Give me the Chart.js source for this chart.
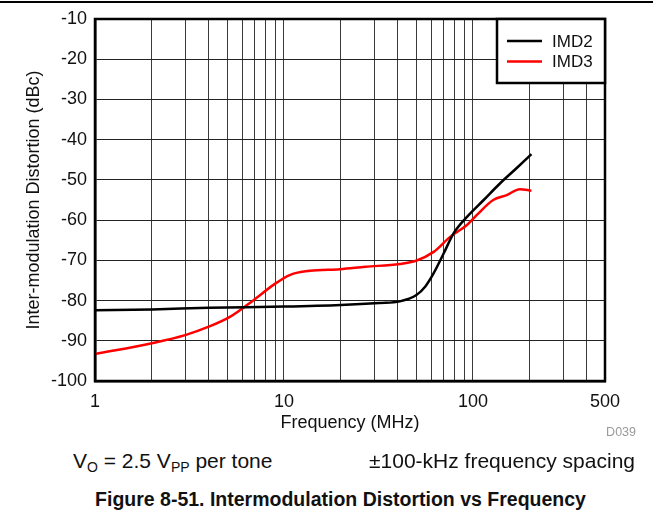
<!DOCTYPE html>
<html>
<head>
<meta charset="utf-8">
<script src="https://cdn.jsdelivr.net/npm/chart.js@4/dist/chart.umd.min.js"></script>
<style>
	body { margin: 0; background: #fff; font-family: "Liberation Sans", Arial, sans-serif; }
	#page { position: relative; width: 653px; height: 514px; overflow: hidden; }
	#topline { position: absolute; left: 0; top: 1px; width: 653px; height: 2px; background: #000; }
	#wrap { position: absolute; left: 0; top: 0; width: 653px; height: 445px; }
	#code { position: absolute; right: 17px; top: 425px; font-size: 12.5px; color: #9a9a9a; }
	.cond { position: absolute; top: 449px; font-size: 21px; color: #111; white-space: nowrap; }
	.cond sub { font-size: 14px; vertical-align: -4px; }
	#caption { position: absolute; left: 0; width: 681px; top: 488px; text-align: center; font-size: 19.5px; font-weight: bold; color: #111; white-space: nowrap; }
</style>
</head>
<body>
<div id="page">
	<div id="topline"></div>
	<div id="wrap"><canvas id="imdChart" width="653" height="445"></canvas></div>
	<div id="code">D039</div>
	<div class="cond" style="left:73px">V<sub>O</sub> = 2.5 V<sub>PP</sub> per tone</div>
	<div class="cond" style="left:369px">±100-kHz frequency spacing</div>
	<div id="caption">Figure 8-51. Intermodulation Distortion vs Frequency</div>
</div>
<script type="text/javascript">
	// values
	var imd2Freq = [1, 2, 4, 10, 20, 32, 41, 50, 56, 62, 70, 79, 93, 114, 139, 170, 204];
	var imd2Vals = [-82.4, -82.2, -81.8, -81.5, -81.1, -80.6, -80.2, -78.7, -76.5, -73.2, -68.3, -63.3, -59.2, -55, -50.9, -47.1, -43.6];

	var imd3Freq = [1, 2, 3, 4, 5.2, 6.9, 8.8, 10.8, 13.7, 19.8, 27, 41, 50, 62, 76, 93, 105, 128, 151, 177, 204];
	var imd3Vals = [-93.3, -90.6, -88.6, -86.5, -84, -79.9, -76.1, -73.6, -72.6, -72.2, -71.6, -70.9, -70.1, -67.9, -64.1, -61.2, -58.7, -55, -53.8, -52.3, -52.7];

	var xGridValues = [1, 2, 3, 4, 5, 6, 7, 8, 9, 10, 20, 30, 40, 50, 60, 70, 80, 90, 100, 200, 300, 400, 500];
	var xTickLabels = [1, 10, 100, 500];

	var FONT = '"Liberation Sans", Arial, sans-serif';

	function toPoints(xs, ys) {
		var pts = [];
		for (var i = 0; i < xs.length; i++) {
			pts.push({ x: xs[i], y: ys[i] });
		}
		return pts;
	}

	// frame around the plot + boxed legend in the top right corner
	var framePlugin = {
		id: 'frame',
		afterDatasetsDraw: function(chart) {
			var ctx = chart.ctx;
			var a = chart.chartArea;
			ctx.save();

			ctx.strokeStyle = '#000';
			ctx.lineWidth = 2.5;
			ctx.strokeRect(a.left, a.top, a.right - a.left, a.bottom - a.top);

			var boxW = 108, boxH = 64;
			var bx = a.right - boxW, by = a.top;
			ctx.fillStyle = '#fff';
			ctx.fillRect(bx, by, boxW, boxH);
			ctx.strokeRect(bx, by, boxW, boxH);

			ctx.font = '17px ' + FONT;
			ctx.textBaseline = 'middle';
			chart.data.datasets.forEach(function(ds, i) {
				var y = by + 22 + i * 20.5;
				ctx.strokeStyle = ds.borderColor;
				ctx.lineWidth = 2.5;
				ctx.beginPath();
				ctx.moveTo(bx + 10, y);
				ctx.lineTo(bx + 45, y);
				ctx.stroke();
				ctx.fillStyle = '#111';
				ctx.fillText(ds.label, bx + 55, y + 1);
			});
			ctx.restore();
		}
	};

	var ctx = document.getElementById('imdChart').getContext('2d');
	var chart = new Chart(ctx, {
		type: 'line',
		data: {
			datasets: [
				{
					label: 'IMD2',
					data: toPoints(imd2Freq, imd2Vals),
					borderColor: '#000000',
					borderWidth: 2.5,
					pointRadius: 0,
					cubicInterpolationMode: 'monotone',
					fill: false
				},
				{
					label: 'IMD3',
					data: toPoints(imd3Freq, imd3Vals),
					borderColor: '#ff0000',
					borderWidth: 2.5,
					pointRadius: 0,
					cubicInterpolationMode: 'monotone',
					fill: false
				}
			]
		},
		options: {
			responsive: false,
			animation: false,
			layout: { padding: { left: 0, top: 19, right: 48, bottom: 0 } },
			plugins: {
				legend: { display: false },
				tooltip: { enabled: false }
			},
			scales: {
				x: {
					type: 'logarithmic',
					min: 1,
					max: 500,
					afterBuildTicks: function(scale) {
						scale.ticks = xGridValues.map(function(v) { return { value: v }; });
					},
					afterFit: function(scale) { scale.height = 64; },
					ticks: {
						autoSkip: false,
						maxRotation: 0,
						padding: 10,
						color: '#111',
						font: { family: FONT, size: 18 },
						callback: function(value) {
							return xTickLabels.indexOf(value) >= 0 ? String(value) : '';
						}
					},
					grid: { color: '#3a3a3a', lineWidth: 1, drawTicks: false },
					border: { display: true, color: '#000', width: 2.5 },
					title: {
						display: true,
						text: 'Frequency (MHz)',
						color: '#111',
						font: { family: FONT, size: 18 },
						padding: { top: 0, bottom: 11 }
					}
				},
				y: {
					min: -100,
					max: -10,
					afterFit: function(scale) { scale.width = 95; },
					ticks: {
						stepSize: 10,
						padding: 8,
						color: '#111',
						font: { family: FONT, size: 18 }
					},
					grid: { color: '#222', lineWidth: 1, drawTicks: false },
					border: { display: true, color: '#000', width: 2.5 },
					title: {
						display: true,
						text: 'Inter-modulation Distortion (dBc)',
						color: '#111',
						font: { family: FONT, size: 18 },
						padding: { top: 23, bottom: 0 }
					}
				}
			}
		},
		plugins: [framePlugin]
	});
</script>
</body>
</html>
